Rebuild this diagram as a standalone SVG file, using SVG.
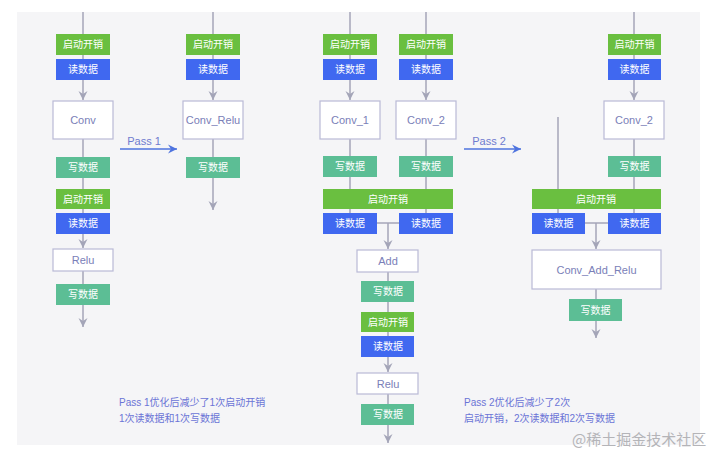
<svg xmlns="http://www.w3.org/2000/svg" width="720" height="463" viewBox="0 0 720 463">
<defs>
<style>
.g{fill:#6abf40}
.b{fill:#4068f0}
.t{fill:#5cbe95}
.w{fill:#ffffff;stroke:#b9bad6;stroke-width:1.2}
.lt{font-family:"Liberation Sans","Noto Sans CJK SC",sans-serif;font-size:10px;fill:#ffffff;text-anchor:middle;dominant-baseline:central}
.nt{font-family:"Liberation Sans","Noto Sans CJK SC",sans-serif;font-size:11px;fill:#7a80b8;text-anchor:middle;dominant-baseline:central}
.ln{stroke:#a4a5b8;stroke-width:1.5;fill:none}
.pa{stroke:#4e73df;stroke-width:1.5;fill:none}
.pt{font-family:"Liberation Sans","Noto Sans CJK SC",sans-serif;font-size:11px;fill:#6f7bcf;text-anchor:middle}
.note{font-family:"Liberation Sans","Noto Sans CJK SC",sans-serif;font-size:10px;fill:#6b74d6}
</style>
<marker id="ah" markerUnits="userSpaceOnUse" markerWidth="10" markerHeight="10" refX="9" refY="5" orient="auto">
<path d="M0,0.5 L9,5 L0,9.5 L3,5 z" fill="#a4a5b8"/>
</marker>
<marker id="pah" markerUnits="userSpaceOnUse" markerWidth="10" markerHeight="10" refX="9" refY="5" orient="auto">
<path d="M0,0.5 L9,5 L0,9.5 L3,5 z" fill="#4e73df"/>
</marker>
</defs>
<rect x="0" y="0" width="720" height="463" fill="#ffffff"/>
<rect x="17" y="12" width="683" height="433" fill="#f5f5f7"/>

<g id="connectors">
<line class="ln" x1="83" y1="12" x2="83" y2="100" marker-end="url(#ah)"/>
<line class="ln" x1="83" y1="139" x2="83" y2="248" marker-end="url(#ah)"/>
<line class="ln" x1="83" y1="271" x2="83" y2="327" marker-end="url(#ah)"/>
<line class="ln" x1="213" y1="12" x2="213" y2="100" marker-end="url(#ah)"/>
<line class="ln" x1="213" y1="139" x2="213" y2="210" marker-end="url(#ah)"/>
<line class="pa" x1="120" y1="149" x2="177" y2="149" marker-end="url(#pah)"/>
<line class="ln" x1="350" y1="12" x2="350" y2="100" marker-end="url(#ah)"/>
<line class="ln" x1="350" y1="139" x2="350" y2="214"/>
<line class="ln" x1="426" y1="12" x2="426" y2="100" marker-end="url(#ah)"/>
<line class="ln" x1="426" y1="139" x2="426" y2="214"/>
<line class="ln" x1="377" y1="223" x2="399" y2="223"/>
<line class="ln" x1="388" y1="223" x2="388" y2="249" marker-end="url(#ah)"/>
<line class="ln" x1="388" y1="272" x2="388" y2="372" marker-end="url(#ah)"/>
<line class="ln" x1="388" y1="394" x2="388" y2="443" marker-end="url(#ah)"/>
<line class="pa" x1="464" y1="149" x2="521" y2="149" marker-end="url(#pah)"/>
<line class="ln" x1="634" y1="12" x2="634" y2="100" marker-end="url(#ah)"/>
<line class="ln" x1="634" y1="139" x2="634" y2="214"/>
<line class="ln" x1="558" y1="117" x2="558" y2="214"/>
<line class="ln" x1="585" y1="223" x2="608" y2="223"/>
<line class="ln" x1="596" y1="223" x2="596" y2="249" marker-end="url(#ah)"/>
<line class="ln" x1="596" y1="289" x2="596" y2="338" marker-end="url(#ah)"/>
</g>

<text class="pt" x="144" y="145">Pass 1</text>
<text class="pt" x="489" y="145">Pass 2</text>

<!-- left column -->
<g id="l-start1"><rect class="g" x="56" y="34" width="54" height="21"/><text class="lt" x="83" y="44.5">启动开销</text></g>
<g id="l-read1"><rect class="b" x="56" y="59" width="54" height="21"/><text class="lt" x="83" y="69.5">读数据</text></g>
<g id="l-conv"><rect class="w" x="53" y="101" width="60" height="38"/><text class="nt" x="83" y="120">Conv</text></g>
<g id="l-write1"><rect class="t" x="56" y="157" width="54" height="21"/><text class="lt" x="83" y="167.5">写数据</text></g>
<g id="l-start2"><rect class="g" x="56" y="189" width="54" height="20"/><text class="lt" x="83" y="199">启动开销</text></g>
<g id="l-read2"><rect class="b" x="56" y="213" width="54" height="21"/><text class="lt" x="83" y="223.5">读数据</text></g>
<g id="l-relu"><rect class="w" x="53" y="249" width="60" height="22"/><text class="nt" x="83" y="260">Relu</text></g>
<g id="l-write2"><rect class="t" x="56" y="284" width="54" height="21"/><text class="lt" x="83" y="294.5">写数据</text></g>

<!-- pass1 result -->
<g id="p1-start"><rect class="g" x="186" y="34" width="54" height="21"/><text class="lt" x="213" y="44.5">启动开销</text></g>
<g id="p1-read"><rect class="b" x="186" y="59" width="54" height="21"/><text class="lt" x="213" y="69.5">读数据</text></g>
<g id="p1-convrelu"><rect class="w" x="183" y="101" width="60" height="38"/><text class="nt" x="213" y="120">Conv_Relu</text></g>
<g id="p1-write"><rect class="t" x="186" y="157" width="54" height="21"/><text class="lt" x="213" y="167.5">写数据</text></g>

<!-- middle -->
<g id="m-start1"><rect class="g" x="323" y="34" width="54" height="21"/><text class="lt" x="350" y="44.5">启动开销</text></g>
<g id="m-read1"><rect class="b" x="323" y="59" width="54" height="21"/><text class="lt" x="350" y="69.5">读数据</text></g>
<g id="m-conv1"><rect class="w" x="320" y="101" width="60" height="38"/><text class="nt" x="350" y="120">Conv_1</text></g>
<g id="m-write1"><rect class="t" x="323" y="156" width="54" height="21"/><text class="lt" x="350" y="166.5">写数据</text></g>
<g id="m-start2"><rect class="g" x="399" y="34" width="54" height="21"/><text class="lt" x="426" y="44.5">启动开销</text></g>
<g id="m-read2"><rect class="b" x="399" y="59" width="54" height="21"/><text class="lt" x="426" y="69.5">读数据</text></g>
<g id="m-conv2"><rect class="w" x="396" y="101" width="60" height="38"/><text class="nt" x="426" y="120">Conv_2</text></g>
<g id="m-write2"><rect class="t" x="399" y="156" width="54" height="21"/><text class="lt" x="426" y="166.5">写数据</text></g>
<g id="m-start3"><rect class="g" x="323" y="189" width="130" height="20"/><text class="lt" x="388" y="199">启动开销</text></g>
<g id="m-read3"><rect class="b" x="323" y="213" width="54" height="21"/><text class="lt" x="350" y="223.5">读数据</text></g>
<g id="m-read4"><rect class="b" x="399" y="213" width="54" height="21"/><text class="lt" x="426" y="223.5">读数据</text></g>
<g id="m-add"><rect class="w" x="357" y="250" width="61" height="22"/><text class="nt" x="388" y="261">Add</text></g>
<g id="m-write3"><rect class="t" x="361" y="281" width="53" height="21"/><text class="lt" x="388" y="291.5">写数据</text></g>
<g id="m-start4"><rect class="g" x="361" y="312" width="53" height="20"/><text class="lt" x="388" y="322">启动开销</text></g>
<g id="m-read5"><rect class="b" x="361" y="336" width="53" height="21"/><text class="lt" x="388" y="346.5">读数据</text></g>
<g id="m-relu"><rect class="w" x="357" y="373" width="61" height="21"/><text class="nt" x="388" y="383.5">Relu</text></g>
<g id="m-write4"><rect class="t" x="361" y="404" width="53" height="21"/><text class="lt" x="388" y="414.5">写数据</text></g>

<!-- right -->
<g id="r-start1"><rect class="g" x="608" y="34" width="53" height="21"/><text class="lt" x="634.5" y="44.5">启动开销</text></g>
<g id="r-read1"><rect class="b" x="608" y="59" width="53" height="21"/><text class="lt" x="634.5" y="69.5">读数据</text></g>
<g id="r-conv2"><rect class="w" x="604" y="101" width="60" height="38"/><text class="nt" x="634" y="120">Conv_2</text></g>
<g id="r-write1"><rect class="t" x="608" y="156" width="53" height="21"/><text class="lt" x="634.5" y="166.5">写数据</text></g>
<g id="r-start2"><rect class="g" x="532" y="189" width="129" height="20"/><text class="lt" x="596" y="199">启动开销</text></g>
<g id="r-read2"><rect class="b" x="532" y="213" width="53" height="21"/><text class="lt" x="558.5" y="223.5">读数据</text></g>
<g id="r-read3"><rect class="b" x="608" y="213" width="53" height="21"/><text class="lt" x="634.5" y="223.5">读数据</text></g>
<g id="r-car"><rect class="w" x="532" y="250" width="129" height="39"/><text class="nt" x="596.5" y="269.5">Conv_Add_Relu</text></g>
<g id="r-write2"><rect class="t" x="569" y="299" width="53" height="22"/><text class="lt" x="595.5" y="310">写数据</text></g>

<text class="note" x="119" y="406">Pass 1优化后减少了1次启动开销</text>
<text class="note" x="119" y="422">1次读数据和1次写数据</text>
<text class="note" x="464" y="406">Pass 2优化后减少了2次</text>
<text class="note" x="464" y="422">启动开销，2次读数据和2次写数据</text>
<text x="572" y="445" font-family="'Noto Sans CJK SC',sans-serif" font-size="15" fill="#b4b4b8">@稀土掘金技术社区</text>
</svg>
